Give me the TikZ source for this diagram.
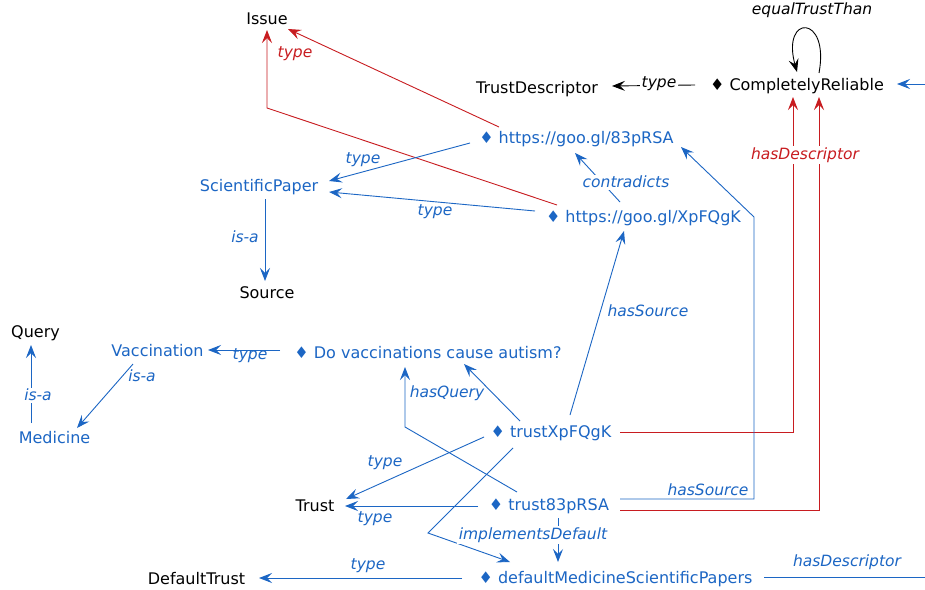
\documentclass[tikz,border=0pt]{standalone}
\usepackage{fontspec}
\setmainfont{DejaVu Sans}
\usetikzlibrary{arrows.meta}
\definecolor{bl}{RGB}{28,102,196}
\definecolor{rd}{RGB}{200,28,32}
\tikzset{
 nd/.style={inner sep=0pt, anchor=base, font=\fontsize{16}{19}\selectfont},
 lb/.style={inner sep=1.5pt, font=\fontsize{15.5}{18}\selectfont\itshape},
 lbw/.style={lb, fill=white},
 ar/.style={line width=0.9pt, -{Stealth[length=13pt,width=10pt,inset=5pt]}},
 ln/.style={line width=0.9pt},
}
\begin{document}
\begin{tikzpicture}[x=1pt,y=-1pt]
\useasboundingbox[fill=white] (0,0) rectangle (925,589);
% nodes (placed by their baseline)
\node[nd] (issue) at (267,24.5) {Issue};
\node[nd] (tdesc) at (537,93.3) {TrustDescriptor};
\node[nd] (crel) at (797,90.5) {♦ CompletelyReliable};
\node[nd,text=bl] (r83) at (576.5,143.5) {♦ https://goo.gl/83pRSA};
\node[nd,text=bl] (rxp) at (643.5,222.5) {♦ https://goo.gl/XpFQgK};
\node[nd,text=bl] (sci) at (259,191.5) {ScientificPaper};
\node[nd] (source) at (267,298.5) {Source};
\node[nd] (query) at (35.5,337.5) {Query};
\node[nd,text=bl] (vacc) at (157.5,356.5) {Vaccination};
\node[nd,text=bl] (med) at (54.5,443.5) {Medicine};
\node[nd,text=bl] (dov) at (428,358.5) {♦ Do vaccinations cause autism?};
\node[nd,text=bl] (txp) at (551,437.5) {♦ trustXpFQgK};
\node[nd,text=bl] (t83) at (549,510.5) {♦ trust83pRSA};
\node[nd] (trust) at (315,511.5) {Trust};
\node[nd,text=bl] (dmsp) at (615.5,583.5) {♦ defaultMedicineScientificPapers};
\node[nd] (dtrust) at (196.5,584.5) {DefaultTrust};
\coordinate (eastA) at (925,577);
\coordinate (eastB) at (925,84);
% red edges
\draw[ar,rd] ([shift={(-77.5,-16.5)}]r83.base) -- ([shift={(21,4.5)}]issue.base);
\draw[ar,rd] ([shift={(-86.5,-17.5)}]rxp.base) -- (267,108) -- ([shift={(0,5.5)}]issue.base);
\draw[ar,rd] ([shift={(69,-5.5)}]txp.base) -- (793,432) -- ([shift={(-4,6.5)}]crel.base);
\draw[ar,rd] ([shift={(71,-0.5)}]t83.base) -- (819,510) -- ([shift={(22,6.5)}]crel.base);
% blue edges
\draw[ar,bl] ([shift={(-106.5,-0.5)}]r83.base) -- ([shift={(70,-10.5)}]sci.base);
\draw[ar,bl] ([shift={(-108.5,-11.5)}]rxp.base) -- ([shift={(70,0.5)}]sci.base);
\draw[ar,bl] ([shift={(-23.5,-20.5)}]rxp.base) -- ([shift={(-1.5,9.5)}]r83.base);
\draw[ar,bl] ([shift={(6,7.5)}]sci.base) -- ([shift={(-2,-17.5)}]source.base);
\draw[ar,bl] ([shift={(19,-22.5)}]txp.base) -- ([shift={(-19.5,8.5)}]rxp.base);
\draw[ar,bl] ([shift={(71,-11.5)}]t83.base) -- (754,499) -- (754,217) -- ([shift={(104.5,3.5)}]r83.base);
\draw[ar,bl] ([shift={(-31,-16.5)}]txp.base) -- ([shift={(36,5.5)}]dov.base);
\draw[ar,bl] ([shift={(-32,-18.5)}]t83.base) -- (405,427) -- ([shift={(-23,8.5)}]dov.base);
\draw[ar,bl] ([shift={(-67,-0.5)}]txp.base) -- ([shift={(31,-12.5)}]trust.base);
\draw[ar,bl] ([shift={(-71,-4.5)}]t83.base) -- ([shift={(30,-5.5)}]trust.base);
\draw[ar,bl] ([shift={(-38,10.5)}]txp.base) -- (428,533) -- ([shift={(-105.5,-21.5)}]dmsp.base);
\draw[ar,bl] ([shift={(9,7.5)}]t83.base) -- ([shift={(-57.5,-21.5)}]dmsp.base);
\draw[ar,bl] ([shift={(-153.5,-5.5)}]dmsp.base) -- ([shift={(62.5,-6.5)}]dtrust.base);
\draw[ln,bl] ([shift={(148.5,-6.5)}]dmsp.base) -- (eastA);
\draw[ar,bl] (eastB) -- ([shift={(100,-6.5)}]crel.base);
\draw[ar,bl] ([shift={(-148,-8.5)}]dov.base) -- ([shift={(50.5,-6.5)}]vacc.base);
\draw[ar,bl] ([shift={(-24.5,7.5)}]vacc.base) -- ([shift={(22.5,-15.5)}]med.base);
\draw[ar,bl] ([shift={(-23.5,-20.5)}]med.base) -- ([shift={(-4.5,7.5)}]query.base);
% black edges
\draw[ar] ([shift={(-102,-5.5)}]crel.base) -- ([shift={(75,-7.3)}]tdesc.base);
\draw[ar] ([shift={(22,-17.5)}]crel.base) .. controls (830,14) and (781,14) .. ([shift={(0,-18.5)}]crel.base);
% labels
\node[lb,text=rd] at (295,54) {type};
\node[lbw,text=rd] at (805,155) {hasDescriptor};
\node[lb,text=bl] at (363,160) {type};
\node[lb,text=bl] at (435,212) {type};
\node[lbw,text=bl] at (626,182) {contradicts};
\node[lb,text=bl] at (245,237) {is-a};
\node[lb,text=bl] at (648,311) {hasSource};
\node[lb,text=bl] at (708,490) {hasSource};
\node[lb,text=bl] at (447,393) {hasQuery};
\node[lb,text=bl] at (385,463) {type};
\node[lb,text=bl] at (375,519) {type};
\node[lbw,text=bl] at (533,535) {implementsDefault};
\node[lb,text=bl] at (368,566) {type};
\node[lb,text=bl] at (847,562) {hasDescriptor};
\node[lb,text=bl] at (250,356) {type};
\node[lb,text=bl] at (142,376) {is-a};
\node[lbw,text=bl] at (38,395) {is-a};
\node[lbw] at (659,84) {type};
\node[lb] at (812,10) {equalTrustThan};
\end{tikzpicture}
\end{document}
